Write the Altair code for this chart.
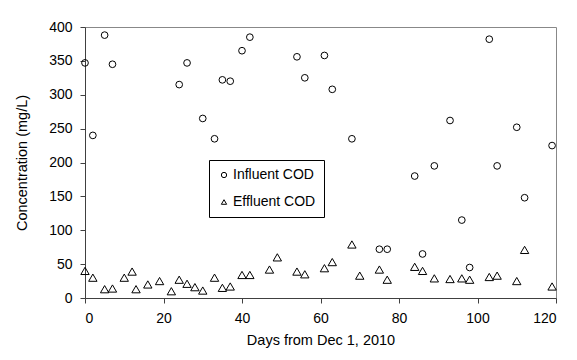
import altair as alt
import pandas as pd

inf_days = [0, 2, 5, 7, 24, 26, 30, 33, 35, 37, 40, 42, 54, 56, 61, 63, 68, 75, 77,
            84, 86, 89, 93, 96, 98, 103, 105, 110, 112, 119]
inf_vals = [347, 240, 388, 345, 315, 347, 265, 235, 322, 320, 365, 385, 356, 325, 358, 308, 235, 72, 72,
            180, 65, 195, 262, 115, 45, 382, 195, 252, 148, 225]

eff_days = [0, 2, 5, 7, 10, 12, 13, 16, 19, 22, 24, 26, 28, 30, 33, 35, 37, 40, 42, 47, 49,
            54, 56, 61, 63, 68, 70, 75, 77, 84, 86, 89, 93, 96, 98, 103, 105, 110, 112, 119]
eff_vals = [40, 30, 13, 14, 30, 39, 13, 20, 25, 10, 27, 21, 16, 11, 30, 15, 17, 34, 34, 42, 60,
            39, 35, 44, 53, 79, 33, 42, 27, 46, 40, 29, 28, 29, 27, 31, 33, 25, 71, 17]

series = ["Influent COD", "Effluent COD"]

df = pd.concat([
    pd.DataFrame({"day": inf_days, "conc": inf_vals, "series": series[0]}),
    pd.DataFrame({"day": eff_days, "conc": eff_vals, "series": series[1]}),
])

chart = alt.Chart(df).transform_calculate(
    sz="datum.series == 'Effluent COD' ? 70 : 45"
).mark_point(filled=False, stroke="black", strokeWidth=1, opacity=1).encode(
    x=alt.X("day:Q", scale=alt.Scale(domain=[0, 120], nice=False),
            axis=alt.Axis(title="Days from Dec 1, 2010", values=[0, 20, 40, 60, 80, 100, 120],
                          grid=False, tickSize=5, labelPadding=8, titlePadding=8)),
    y=alt.Y("conc:Q", scale=alt.Scale(domain=[0, 400], nice=False),
            axis=alt.Axis(title="Concentration (mg/L)", values=list(range(0, 401, 50)),
                          grid=False, tickSize=5, labelPadding=8, titlePadding=19)),
    shape=alt.Shape("series:N", scale=alt.Scale(domain=series, range=["circle", "triangle-up"]),
                    legend=alt.Legend(title=None, orient="none", legendX=124, legendY=133,
                                      strokeColor="black", fillColor="white", padding=8,
                                      rowPadding=13, symbolSize=28, symbolStrokeColor="black",
                                      symbolFillColor="white", symbolStrokeWidth=1,
                                      labelFontSize=14, labelFont="Liberation Sans",
                                      labelColor="black", symbolOffset=0, labelOffset=2,
                                      cornerRadius=0)),
    size=alt.Size("sz:Q", scale=None),
).properties(
    width=471, height=271,
    autosize=alt.AutoSizeParams(type="none"),
    padding={"left": 77, "top": 19, "right": 10, "bottom": 52},
).configure_view(
    stroke="#888888", strokeWidth=1
).configure_axis(
    labelFont="Liberation Sans", titleFont="Liberation Sans",
    labelFontSize=14, titleFontSize=14.5, titleFontWeight="normal",
    labelColor="black", titleColor="black",
    domainColor="#404040", tickColor="#404040", domainWidth=1
)

chart.save("out.html", embed_options={"renderer": "svg", "actions": False})
